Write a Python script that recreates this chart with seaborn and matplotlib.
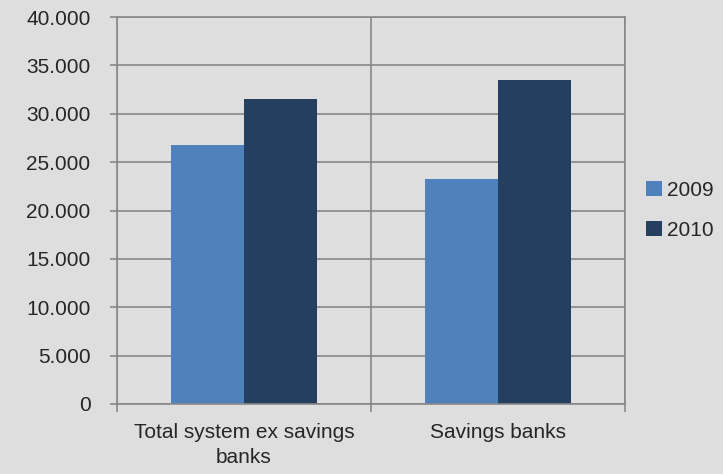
import seaborn as sns
import matplotlib.pyplot as plt
import pandas as pd
from matplotlib.ticker import FuncFormatter, FixedLocator

categories = ["Total system ex savings\nbanks", "Savings banks"]
years = ["2009", "2010"]
values_2009 = [26760, 23280]
values_2010 = [31560, 33480]

df = pd.DataFrame({
    "Category": categories * 2,
    "Year": [years[0]] * 2 + [years[1]] * 2,
    "Value": values_2009 + values_2010,
})

sns.set_style("white")
plt.rcParams["font.family"] = ["Liberation Sans Narrow", "Liberation Sans", "DejaVu Sans"]
bg = "#DEDEDE"
grid_col = "#888888"

fig = plt.figure(figsize=(7.23, 4.74), dpi=100, facecolor=bg)
ax = fig.add_axes([0.1618, 0.1477, 0.7027, 0.8164])
ax.set_facecolor(bg)

sns.barplot(data=df, x="Category", y="Value", hue="Year", order=categories,
            hue_order=years, palette=["#4F81BD", "#243F60"], width=0.573,
            gap=0, saturation=1, edgecolor="none", ax=ax)

ax.set_xlim(-0.5, 1.5)
ax.set_ylim(0, 40000)
ax.yaxis.set_major_locator(FixedLocator(range(0, 40001, 5000)))
ax.yaxis.set_major_formatter(FuncFormatter(lambda v, p: f"{int(v):,}".replace(",", ".")))
ax.xaxis.set_minor_locator(FixedLocator([-0.5, 0.5, 1.5]))

ax.grid(axis="y", which="major", color=grid_col, linewidth=1.2)
ax.grid(axis="x", which="minor", color=grid_col, linewidth=1.2)
ax.set_axisbelow(True)
for s in ax.spines.values():
    s.set_color(grid_col)
    s.set_linewidth(1.2)

ax.tick_params(axis="y", which="major", length=5, width=1.2, color=grid_col,
               labelsize=15, pad=14, left=True)
ax.tick_params(axis="x", which="major", length=0, labelsize=15, pad=14)
ax.tick_params(axis="x", which="minor", length=6, width=1.2, color=grid_col, bottom=True)
for lbl in ax.get_xticklabels():
    lbl.set_linespacing(1.35)

ax.set_xlabel("")
ax.set_ylabel("")

leg = ax.legend(loc="center left", bbox_to_anchor=(1.005, 0.5), frameon=False,
                fontsize=15, handlelength=0.75, handleheight=0.75, handletextpad=0.25,
                labelspacing=1.0)

fig.savefig("out.png", dpi=100, facecolor=bg)
